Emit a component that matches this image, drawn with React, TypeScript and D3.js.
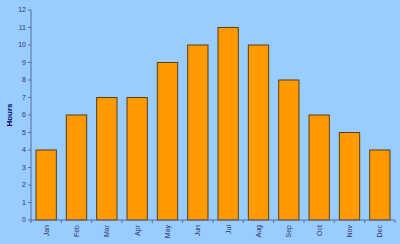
import React from "react";
import * as d3 from "d3";

const months = ["Jan","Feb","Mar","Apr","May","Jun","Jul","Aug","Sep","Oct","Nov","Dec"];
const hours = [4,6,7,7,9,10,11,10,8,6,5,4];
const yTicks = [0,1,2,3,4,5,6,7,8,9,10,11,12];

export default function App() {
  const W = 400, H = 244;
  const left = 31, right = 395, top = 10, bottom = 220;
  const x = d3.scaleBand<string>().domain(months).range([left, right]).paddingInner(0.33).paddingOuter(0.165);
  const xb = d3.scaleBand<string>().domain(months).range([left, right]);
  const y = d3.scaleLinear().domain([0, 12]).range([bottom, top]);
  const axisColor = "#5a6a9a";
  const textColor = "#333366";
  return (
    <svg width={W} height={H} style={{ position: "absolute", left: 0, top: 0, display: "block" }}>
      <rect x={0} y={0} width={W} height={H} fill="#99ccff" />
      {months.map((m, i) => (
        <rect key={m} x={x(m)} y={y(hours[i])} width={x.bandwidth()} height={y(0) - y(hours[i])}
          fill="#ff9900" stroke="#5a3d10" strokeWidth={1} />
      ))}
      <line x1={left} x2={left} y1={top} y2={bottom} stroke={axisColor} />
      <line x1={left} x2={right} y1={bottom} y2={bottom} stroke={axisColor} />
      {yTicks.map(t => (
        <g key={t}>
          <line x1={left - 3} x2={left} y1={y(t)} y2={y(t)} stroke={axisColor} />
          <text x={left - 5} y={y(t)} dy="0.35em" textAnchor="end" fontSize={7}
            fontFamily="Liberation Sans, Arial, sans-serif" fill={textColor}>{t}</text>
        </g>
      ))}
      {months.map((m, i) => (
        <line key={"t" + m} x1={(xb(m) as number) + (i === 0 ? 0 : 0)} x2={xb(m) as number}
          y1={bottom} y2={bottom + 3} stroke={axisColor} />
      ))}
      <line x1={right} x2={right} y1={bottom} y2={bottom + 3} stroke={axisColor} />
      {months.map(m => {
        const cx = (xb(m) as number) + xb.bandwidth() / 2;
        return (
          <text key={"l" + m} transform={`translate(${cx + 2.5},${bottom + 5}) rotate(-90)`}
            textAnchor="end" fontSize={7} fontFamily="Liberation Sans, Arial, sans-serif" fill={textColor}>{m}</text>
        );
      })}
      <text transform={`translate(12,${(top + bottom) / 2}) rotate(-90)`} textAnchor="middle"
        fontSize={8} fontWeight="bold" fontFamily="Liberation Sans, Arial, sans-serif" fill="#000066">Hours</text>
    </svg>
  );
}
